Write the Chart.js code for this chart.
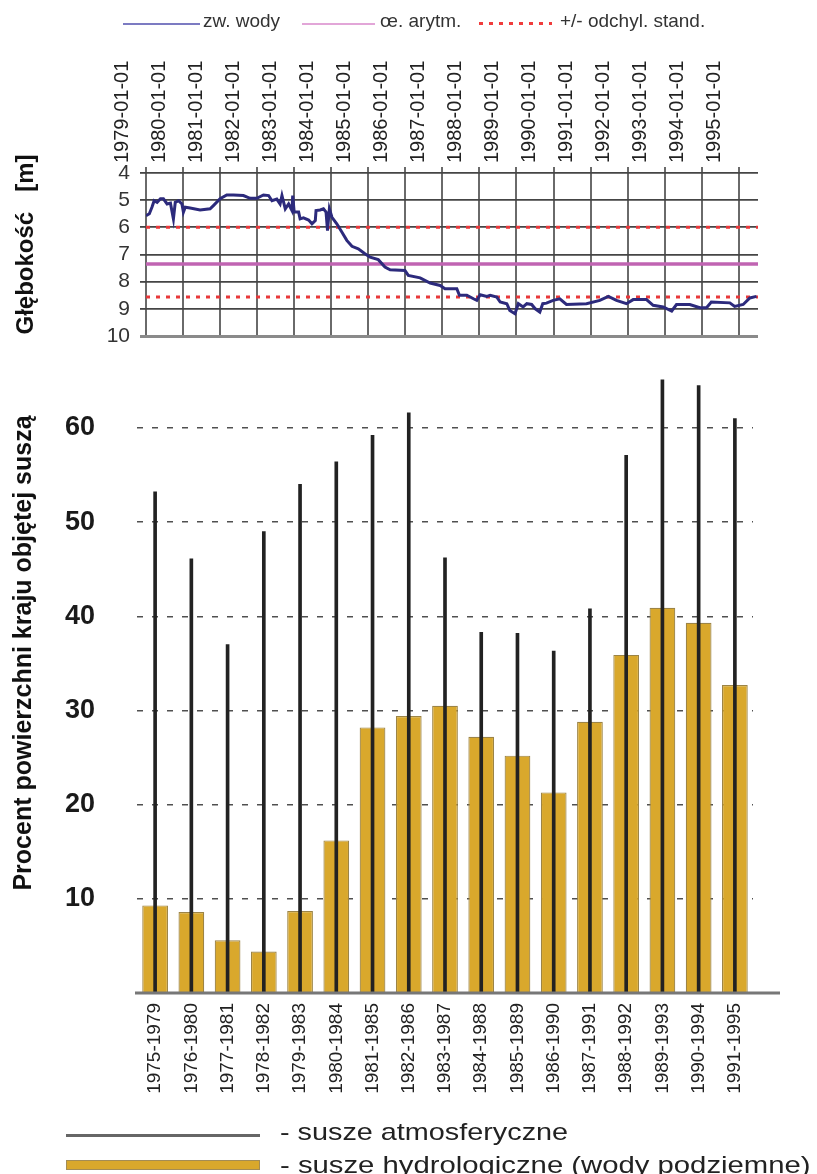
<!DOCTYPE html>
<html>
<head>
<meta charset="utf-8">
<script src="https://cdn.jsdelivr.net/npm/chart.js@4.4.1/dist/chart.umd.min.js"></script>
<style>
html,body{margin:0;padding:0;background:#fff;}
body{width:817px;height:1174px;position:relative;overflow:hidden;font-family:'Liberation Sans',Arial,sans-serif;}
canvas{position:absolute;left:0;}
#c1{top:0;}
#c2{top:300px;}
.lg{position:absolute;white-space:nowrap;}
.ln{position:absolute;}
</style>
</head>
<body>
<canvas id="c2" width="817" height="874" style="width:817px;height:874px"></canvas>
<canvas id="c1" width="817" height="350" style="width:817px;height:350px"></canvas>

<div class="ln" style="left:123px;top:23px;width:77px;height:2px;background:#7c7bc2"></div>
<div class="lg" style="left:203px;top:10px;font-size:19px;line-height:22px;color:#333">zw. wody</div>
<div class="ln" style="left:302px;top:23px;width:73px;height:2px;background:#e2a6d8"></div>
<div class="lg" style="left:380px;top:10px;font-size:19px;line-height:22px;color:#333">œ. arytm.</div>
<div class="ln" style="left:479px;top:22px;width:73px;height:3px;background:repeating-linear-gradient(90deg,#f03c3c 0 4px,transparent 4px 10px)"></div>
<div class="lg" style="left:560px;top:10px;font-size:19px;line-height:22px;color:#333">+/- odchyl. stand.</div>

<div class="ln" style="left:66px;top:1134px;width:194px;height:3px;background:#666"></div>
<div class="lg" style="left:280px;top:1118px;font-size:24px;line-height:28px;color:#222;transform:scaleX(1.2);transform-origin:0 0">- susze atmosferyczne</div>
<div class="ln" style="left:66px;top:1160px;width:194px;height:10px;box-sizing:border-box;border:1px solid #a38c55;background:#d9a82c"></div>
<div class="lg" style="left:280px;top:1151px;font-size:24px;line-height:28px;color:#222;transform:scaleX(1.22);transform-origin:0 0">- susze hydrologiczne (wody podziemne)</div>

<script>
// ---- bottom chart data ----
const periods = ['1975-1979','1976-1980','1977-1981','1978-1982','1979-1983','1980-1984','1981-1985','1982-1986','1983-1987','1984-1988','1985-1989','1986-1990','1987-1991','1988-1992','1989-1993','1990-1994','1991-1995'];
const atmospheric = [53.2,46.1,37.0,49.0,54.0,56.4,59.2,61.6,46.2,38.3,38.2,36.3,40.8,57.1,65.1,64.5,61.0];
const hydrological = [9.3,8.6,5.6,4.4,8.7,16.2,28.2,29.4,30.5,27.2,25.2,21.3,28.8,35.9,40.9,39.3,32.7];
const percentTicks = [10,20,30,40,50,60];

// ---- top chart data ----
const yearTicks = [1979,1980,1981,1982,1983,1984,1985,1986,1987,1988,1989,1990,1991,1992,1993,1994,1995];
const depthTicks = [4,5,6,7,8,9,10];
const levelTime = [1979.00,1979.09,1979.16,1979.22,1979.30,1979.39,1979.47,1979.57,1979.66,1979.74,1979.79,1979.88,1979.97,1980.01,1980.06,1980.19,1980.46,1980.73,1980.82,1981.00,1981.18,1981.36,1981.63,1981.81,1981.99,1982.17,1982.31,1982.40,1982.53,1982.62,1982.67,1982.76,1982.85,1982.94,1982.96,1983.00,1983.12,1983.16,1983.25,1983.39,1983.48,1983.57,1983.59,1983.70,1983.79,1983.86,1983.90,1983.95,1984.02,1984.15,1984.29,1984.42,1984.56,1984.73,1984.91,1985.05,1985.27,1985.45,1985.59,1985.99,1986.08,1986.40,1986.67,1986.94,1987.07,1987.39,1987.46,1987.66,1987.84,1987.93,1988.02,1988.20,1988.29,1988.47,1988.56,1988.74,1988.82,1988.96,1989.05,1989.18,1989.28,1989.41,1989.50,1989.63,1989.71,1989.81,1989.99,1990.17,1990.35,1990.89,1991.25,1991.48,1991.70,1991.97,1992.15,1992.51,1992.69,1992.96,1993.19,1993.32,1993.68,1993.95,1994.13,1994.26,1994.76,1994.89,1995.12,1995.30,1995.48];
const levelDepth = [5.57,5.50,5.26,5.02,5.08,4.95,4.95,5.14,5.11,5.69,5.08,5.02,5.14,5.44,5.26,5.29,5.36,5.32,5.20,4.95,4.81,4.81,4.83,4.93,4.93,4.81,4.83,5.02,4.96,5.14,4.83,5.32,5.14,5.38,4.83,5.44,5.44,5.69,5.65,5.73,5.87,5.75,5.38,5.36,5.32,5.44,6.12,5.32,5.63,5.87,6.18,6.48,6.70,6.79,6.97,7.10,7.19,7.46,7.56,7.59,7.77,7.86,8.05,8.14,8.26,8.26,8.50,8.50,8.63,8.69,8.48,8.54,8.50,8.57,8.75,8.81,9.06,9.18,8.81,8.93,8.81,8.84,8.99,9.12,8.81,8.79,8.69,8.63,8.84,8.81,8.69,8.54,8.69,8.81,8.66,8.66,8.87,8.93,9.08,8.84,8.84,8.96,8.96,8.75,8.78,8.91,8.84,8.60,8.54];
const meanDepth = 7.35;
const sdUpper = 6.0;
const sdLower = 8.56;
const timeMin = 1979.0;
const timeMax = 1995.52;

const FF = "'Liberation Sans', Arial, sans-serif";

function fixV(w) { return s => { s.width = w; s.paddingTop = 0; s.paddingBottom = 0; }; }
function fixH(h) { return s => { s.height = h; s.paddingLeft = 0; s.paddingRight = 0; }; }

// ---- top chart ----
const hline = v => [{x: timeMin, y: v}, {x: timeMax, y: v}];
new Chart(document.getElementById('c1'), {
  type: 'line',
  data: {
    datasets: [
      { label: 'zw. wody', data: levelTime.map((t, i) => ({x: t, y: levelDepth[i]})), borderColor: '#2c2a7c', borderWidth: 3, pointRadius: 0, tension: 0 },
      { label: 'œ. arytm.', data: hline(meanDepth), borderColor: '#c064b2', borderWidth: 3.5, pointRadius: 0 },
      { label: '+/- odchyl. stand.', data: hline(sdUpper), borderColor: '#e8383a', borderWidth: 3, borderDash: [4, 6], pointRadius: 0 },
      { label: '+/- odchyl. stand. ', data: hline(sdLower), borderColor: '#e8383a', borderWidth: 3, borderDash: [4, 6], pointRadius: 0 }
    ]
  },
  options: {
    responsive: false, animation: false, events: [],
    layout: { padding: { left: 0, right: 59, top: 0, bottom: 14 } },
    plugins: { legend: { display: false }, tooltip: { enabled: false } },
    scales: {
      x: {
        type: 'linear', position: 'top', min: timeMin, max: timeMax,
        afterBuildTicks: s => { s.ticks = yearTicks.map(v => ({ value: v })); },
        afterFit: fixH(173),
        ticks: { autoSkip: false, minRotation: 90, maxRotation: 90, padding: 4, color: '#222', font: { family: FF, size: 20 }, callback: v => v + '-01-01' },
        grid: { color: '#6a6a6a', lineWidth: 2, tickLength: 6 },
        border: { display: false }
      },
      y: {
        min: 4, max: 10, reverse: true,
        afterBuildTicks: s => { s.ticks = depthTicks.map(v => ({ value: v })); },
        afterFit: fixV(146),
        ticks: { autoSkip: false, padding: 10, color: '#333', font: { family: FF, size: 21 } },
        grid: {
          color: c => (c.tick && c.tick.value === 10) ? '#8a8a8a' : '#454545',
          lineWidth: c => (c.tick && c.tick.value === 10) ? 3 : 1.8,
          tickLength: 6
        },
        border: { display: false },
        title: { display: true, text: '   Głębokość   [m]', color: '#111', font: { family: FF, size: 24, weight: 'bold' }, padding: { top: 11.6, bottom: 0 } }
      }
    }
  }
});

// ---- bottom chart ----
const baseline = {
  id: 'baseline',
  afterDatasetsDraw(chart) {
    const { ctx, chartArea, scales } = chart;
    const yy = scales.y.getPixelForValue(0);
    ctx.save();
    ctx.strokeStyle = '#777';
    ctx.lineWidth = 3;
    ctx.beginPath();
    ctx.moveTo(chartArea.left - 2, yy);
    ctx.lineTo(chartArea.right + 27, yy);
    ctx.stroke();
    ctx.restore();
  }
};

new Chart(document.getElementById('c2'), {
  type: 'bar',
  data: {
    labels: periods,
    datasets: [
      { label: '- susze atmosferyczne', data: atmospheric, backgroundColor: '#222', barThickness: 3, grouped: false },
      { label: '- susze hydrologiczne (wody podziemne)', data: hydrological, backgroundColor: '#d9a82c', borderColor: '#9c8446', borderWidth: 1.2, grouped: false, categoryPercentage: 1, barPercentage: 0.71 }
    ]
  },
  plugins: [baseline],
  options: {
    responsive: false, animation: false, events: [],
    layout: { padding: { left: 0, right: 64, top: 13, bottom: 0 } },
    plugins: { legend: { display: false }, tooltip: { enabled: false } },
    scales: {
      x: {
        afterFit: fixH(181),
        ticks: { autoSkip: false, minRotation: 90, maxRotation: 90, padding: 10, color: '#222', font: { family: FF, size: 19 } },
        grid: { display: false, drawTicks: false },
        border: { display: false }
      },
      y: {
        min: 0, max: 72.2, z: 1,
        afterBuildTicks: s => { s.ticks = percentTicks.map(v => ({ value: v })); },
        afterFit: fixV(137),
        ticks: { autoSkip: false, padding: 42, color: '#1a1a1a', font: { family: FF, size: 27, weight: 'bold' } },
        grid: { color: '#505050', lineWidth: 1.5, drawTicks: false },
        border: { display: false, dash: [6, 9] },
        title: { display: true, text: 'Procent powierzchni kraju objętej suszą', color: '#111', font: { family: FF, size: 25, weight: 'bold' }, padding: { top: 9.5, bottom: 0 } }
      }
    }
  }
});
</script>
</body>
</html>
